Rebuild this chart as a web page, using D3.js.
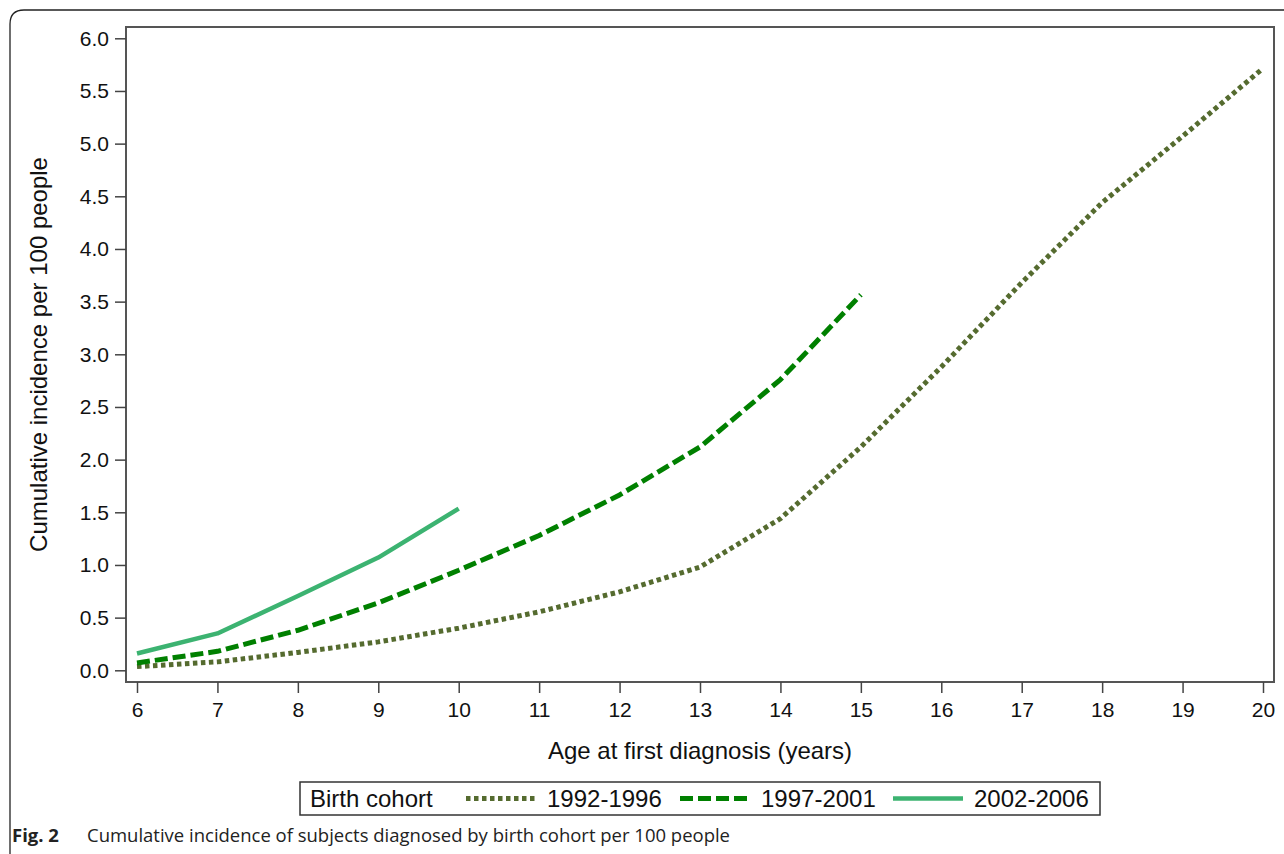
<!DOCTYPE html>
<html>
<head>
<meta charset="utf-8">
<script src="https://cdn.jsdelivr.net/npm/d3@7"></script>
<style>
  html, body { margin: 0; padding: 0; background: #fff; }
  svg { display: block; }
</style>
</head>
<body>
<script>
// Cumulative incidence (per 100 people) by age at first diagnosis, per birth cohort
const ages = [6, 7, 8, 9, 10, 11, 12, 13, 14, 15, 16, 17, 18, 19, 20];
const cohort1992 = [0.035, 0.08, 0.17, 0.27, 0.40, 0.555, 0.745, 0.98, 1.44, 2.12, 2.88, 3.68, 4.44, 5.07, 5.715];
const cohort1997 = [0.07, 0.18, 0.38, 0.64, 0.95, 1.28, 1.665, 2.12, 2.76, 3.565];
const cohort2002 = [0.16, 0.35, 0.705, 1.07, 1.535];
const cohortNames = ["1992-1996", "1997-2001", "2002-2006"];
const yTicks = [0, 0.5, 1, 1.5, 2, 2.5, 3, 3.5, 4, 4.5, 5, 5.5, 6];
const xTicks = ages;

const W = 1284, H = 854;
const box = { left: 126, right: 1274, top: 27, bottom: 682 };
const FONT = "'Liberation Sans', Arial, sans-serif";

const svg = d3.select("body").append("svg")
  .attr("width", W).attr("height", H)
  .style("font-family", FONT);

// outer figure frame: top and left rules with a rounded corner
svg.append("path")
  .attr("d", "M10,860 L10,24 Q10,10 24,10 L1290,10")
  .attr("fill", "none").attr("stroke", "#222").attr("stroke-width", 1.3);

const x = d3.scaleLinear().domain([6, 20]).range([137, 1263]);
const y = d3.scaleLinear().domain([0, 6]).range([670.3, 38.3]);

// plot frame
svg.append("rect")
  .attr("x", box.left).attr("y", box.top)
  .attr("width", box.right - box.left).attr("height", box.bottom - box.top)
  .attr("fill", "none").attr("stroke", "#555").attr("stroke-width", 2);

// y axis
const yAxis = svg.append("g")
  .attr("transform", `translate(${box.left},0)`)
  .call(d3.axisLeft(y).tickValues(yTicks).tickFormat(d3.format(".1f")).tickSize(11).tickPadding(6));
yAxis.select(".domain").remove();
yAxis.selectAll("line").attr("stroke", "#444").attr("stroke-width", 1.5);
yAxis.selectAll("text").attr("font-size", 21).attr("fill", "#111")
  .style("font-family", FONT);

// x axis
const xAxis = svg.append("g")
  .attr("transform", `translate(0,${box.bottom})`)
  .call(d3.axisBottom(x).tickValues(xTicks).tickFormat(d3.format("d")).tickSize(11).tickPadding(9));
xAxis.select(".domain").remove();
xAxis.selectAll("line").attr("stroke", "#444").attr("stroke-width", 1.5);
xAxis.selectAll("text").attr("font-size", 21).attr("fill", "#111")
  .style("font-family", FONT);

// axis titles
svg.append("text")
  .attr("x", (box.left + box.right) / 2).attr("y", 759)
  .attr("text-anchor", "middle").attr("font-size", 24).attr("fill", "#111")
  .text("Age at first diagnosis (years)");

svg.append("text")
  .attr("transform", `translate(47,${(box.top + box.bottom) / 2}) rotate(-90)`)
  .attr("text-anchor", "middle").attr("font-size", 24).attr("fill", "#111")
  .text("Cumulative incidence per 100 people");

// series
const series = [
  { name: cohortNames[0], values: cohort1992, color: "#556b2f", dash: "4.5,3.5", width: 5 },
  { name: cohortNames[1], values: cohort1997, color: "#008000", dash: "13,5", width: 5 },
  { name: cohortNames[2], values: cohort2002, color: "#3cb371", dash: null, width: 4.5 }
];

const line = d3.line().x(d => x(d[0])).y(d => y(d[1]));

series.forEach(s => {
  const pts = s.values.map((v, i) => [ages[i], v]);
  const p = svg.append("path")
    .attr("d", line(pts))
    .attr("fill", "none")
    .attr("stroke", s.color)
    .attr("stroke-width", s.width)
    .attr("stroke-linejoin", "round");
  if (s.dash) p.attr("stroke-dasharray", s.dash);
});

// legend
const lg = svg.append("g");
lg.append("rect").attr("x", 300).attr("y", 782).attr("width", 800).attr("height", 33)
  .attr("fill", "#fff").attr("stroke", "#333").attr("stroke-width", 1.5);
lg.append("text").attr("x", 310).attr("y", 807).attr("font-size", 24).attr("fill", "#111")
  .text("Birth cohort");

const legendX = [466, 680, 893];
series.forEach((s, i) => {
  const lx = legendX[i];
  const ln = lg.append("line")
    .attr("x1", lx).attr("x2", lx + 70).attr("y1", 798.5).attr("y2", 798.5)
    .attr("stroke", s.color).attr("stroke-width", s.width);
  if (s.dash) ln.attr("stroke-dasharray", s.dash);
  lg.append("text").attr("x", lx + 81).attr("y", 807).attr("font-size", 24).attr("fill", "#111")
    .text(s.name);
});

// caption
svg.append("text").attr("x", 12).attr("y", 842)
  .attr("font-size", 18.5).attr("font-weight", "bold").attr("fill", "#222")
  .style("font-family", "'Open Sans', 'Noto Sans', sans-serif")
  .text("Fig. 2");
svg.append("text").attr("x", 87).attr("y", 842)
  .attr("font-size", 17.5).attr("fill", "#222")
  .attr("textLength", 643).attr("lengthAdjust", "spacingAndGlyphs")
  .style("font-family", "'Open Sans', 'Noto Sans', sans-serif")
  .text("Cumulative incidence of subjects diagnosed by birth cohort per 100 people");
</script>
</body>
</html>
